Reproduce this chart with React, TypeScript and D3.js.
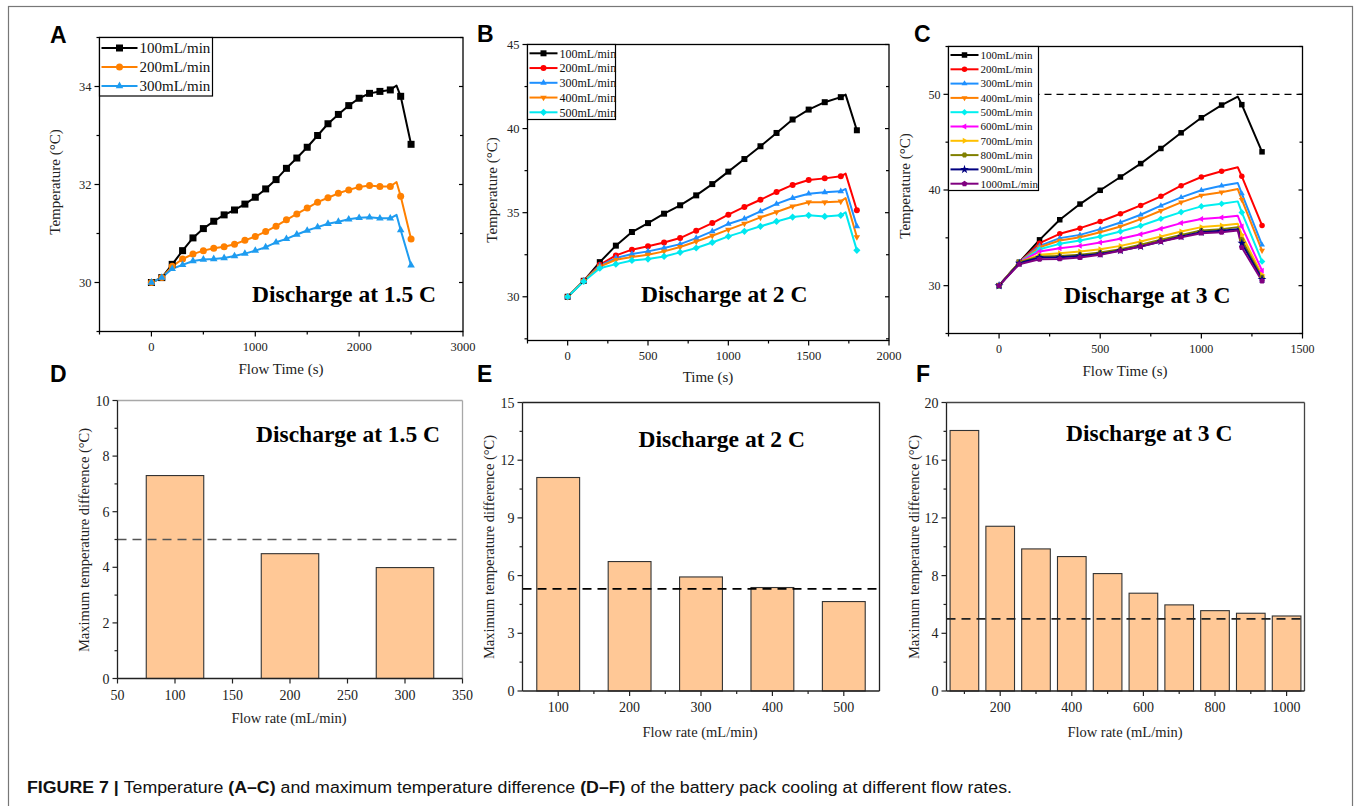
import React from 'react';
import * as d3 from 'd3';

// ---------------- DATA ----------------
// Panel A (1.5 C)
const timeA = [0, 100, 200, 300, 400, 500, 600, 700, 800, 900, 1000, 1100, 1200, 1300, 1400, 1500, 1600, 1700, 1800, 1900, 2000, 2100, 2200, 2300, 2360, 2400, 2500];
const a100 = [30.0, 30.1, 30.37, 30.65, 30.91, 31.1, 31.25, 31.38, 31.48, 31.6, 31.74, 31.91, 32.1, 32.33, 32.54, 32.76, 33.0, 33.24, 33.43, 33.61, 33.76, 33.86, 33.9, 33.93, 34.02, 33.8, 32.82];
const a200 = [30.0, 30.1, 30.33, 30.48, 30.58, 30.65, 30.7, 30.73, 30.78, 30.86, 30.94, 31.04, 31.15, 31.28, 31.4, 31.52, 31.64, 31.73, 31.82, 31.89, 31.95, 31.98, 31.96, 31.96, 32.05, 31.76, 30.89];
const a300 = [30.0, 30.1, 30.28, 30.36, 30.44, 30.47, 30.48, 30.5, 30.54, 30.59, 30.65, 30.72, 30.82, 30.89, 30.98, 31.06, 31.13, 31.2, 31.24, 31.29, 31.32, 31.33, 31.31, 31.31, 31.38, 31.07, 30.35];
const labelsA = ['100mL/min', '200mL/min', '300mL/min'];

// Panel B (2 C)
const timeB = [0, 100, 200, 300, 400, 500, 600, 700, 800, 900, 1000, 1100, 1200, 1300, 1400, 1500, 1600, 1700, 1730, 1800];
const b100 = [30, 30.95, 32.06, 33.04, 33.85, 34.38, 34.94, 35.44, 36.03, 36.7, 37.44, 38.19, 38.95, 39.74, 40.54, 41.13, 41.57, 41.87, 42.02, 39.9];
const b200 = [30, 30.95, 31.9, 32.46, 32.8, 33.0, 33.23, 33.49, 33.93, 34.38, 34.88, 35.34, 35.77, 36.23, 36.65, 36.94, 37.04, 37.16, 37.32, 35.14];
const b300 = [30, 30.95, 31.85, 32.3, 32.54, 32.7, 32.9, 33.13, 33.49, 33.89, 34.33, 34.64, 35.08, 35.52, 35.87, 36.13, 36.21, 36.27, 36.41, 34.19];
const b400 = [30, 30.95, 31.8, 32.2, 32.36, 32.5, 32.7, 32.96, 33.29, 33.63, 33.99, 34.35, 34.72, 35.04, 35.38, 35.62, 35.62, 35.67, 35.87, 33.55];
const b500 = [30, 30.91, 31.7, 31.94, 32.16, 32.24, 32.4, 32.64, 32.9, 33.23, 33.59, 33.89, 34.19, 34.48, 34.74, 34.84, 34.78, 34.84, 35.02, 32.76];
const labelsB = ['100mL/min', '200mL/min', '300mL/min', '400mL/min', '500mL/min'];

// Panel C (3 C)
const timeC = [0, 100, 200, 300, 400, 500, 600, 700, 800, 900, 1000, 1100, 1180, 1200, 1300];
const c100 = [30, 32.45, 34.79, 36.89, 38.53, 39.97, 41.36, 42.76, 44.34, 45.98, 47.55, 48.88, 49.76, 48.92, 43.99];
const c200 = [30, 32.45, 34.44, 35.42, 36.01, 36.71, 37.52, 38.39, 39.34, 40.45, 41.36, 41.96, 42.38, 41.43, 36.29];
const c300 = [30, 32.45, 34.16, 34.97, 35.31, 35.91, 36.61, 37.41, 38.36, 39.23, 39.97, 40.45, 40.73, 39.62, 34.27];
const c400 = [30, 32.45, 34.02, 34.72, 35.07, 35.59, 36.19, 36.96, 37.83, 38.71, 39.44, 39.76, 40.1, 38.99, 33.67];
const c500 = [30, 32.45, 33.81, 34.37, 34.72, 35.14, 35.66, 36.26, 36.99, 37.69, 38.29, 38.57, 38.81, 37.66, 32.52];
const c600 = [30, 32.45, 33.57, 33.92, 34.16, 34.51, 34.9, 35.38, 35.94, 36.54, 36.96, 37.13, 37.31, 36.19, 31.57];
const c700 = [30, 32.45, 33.22, 33.39, 33.57, 33.81, 34.16, 34.62, 35.14, 35.66, 36.12, 36.29, 36.47, 35.31, 31.12];
const c800 = [30, 32.45, 33.04, 33.11, 33.22, 33.46, 33.81, 34.27, 34.79, 35.31, 35.77, 35.91, 36.12, 34.79, 30.87];
const c900 = [30, 32.34, 32.94, 32.97, 33.11, 33.32, 33.67, 34.09, 34.62, 35.14, 35.59, 35.73, 35.91, 34.44, 30.66];
const c1000 = [30, 32.24, 32.76, 32.8, 32.94, 33.22, 33.64, 34.09, 34.62, 35.07, 35.49, 35.59, 35.77, 33.99, 30.49];
const labelsC = ['100mL/min', '200mL/min', '300mL/min', '400mL/min', '500mL/min', '600mL/min', '700mL/min', '800mL/min', '900mL/min', '1000mL/min'];
const limitC = 50;

// Panels D-F (max temperature difference)
const flowD = [100, 200, 300];
const dtD = [7.3, 4.49, 3.99];
const limitD = 5;
const flowE = [100, 200, 300, 400, 500];
const dtE = [11.1, 6.73, 5.93, 5.38, 4.65];
const limitE = 5.31;
const flowF = [100, 200, 300, 400, 500, 600, 700, 800, 900, 1000];
const dtF = [18.06, 11.42, 9.85, 9.32, 8.14, 6.78, 5.97, 5.57, 5.39, 5.2];
const limitF = 5;

// Tick values
const ticksAx = [0, 1000, 2000, 3000];
const minorAx = [-500, 500, 1500, 2500];
const ticksAy = [30, 32, 34];
const minorAy = [29, 31, 33, 35];
const ticksBx = [0, 500, 1000, 1500, 2000];
const minorBx = [-250, 250, 750, 1250, 1750];
const ticksBy = [30, 35, 40, 45];
const minorBy = [27.5, 32.5, 37.5, 42.5];
const ticksCx = [0, 500, 1000, 1500];
const minorCx = [-250, 250, 750, 1250];
const ticksCy = [30, 40, 50];
const minorCy = [25, 35, 45, 55];
const ticksDx = [50, 100, 150, 200, 250, 300, 350];
const ticksDy = [0, 2, 4, 6, 8, 10];
const minorDy = [1, 3, 5, 7, 9];
const ticksEx = [100, 200, 300, 400, 500];
const minorEx = [150, 250, 350, 450];
const ticksEy = [0, 3, 6, 9, 12, 15];
const minorEy = [1.5, 4.5, 7.5, 10.5, 13.5];
const ticksFx = [200, 400, 600, 800, 1000];
const minorFx = [100, 300, 500, 700, 900];
const ticksFy = [0, 4, 8, 12, 16, 20];
const minorFy = [2, 6, 10, 14, 18];

// ---------------- STYLE ----------------
const SERIF = '"Liberation Serif", "Times New Roman", serif';
const SANS = '"Liberation Sans", Arial, sans-serif';
const colorsA = ['#000000', '#ff8000', '#1e9cf0'];
const colorsB = ['#000000', '#ff0000', '#1e90ff', '#ff8000', '#00e8f0'];
const colorsC = ['#000000', '#ff0000', '#1e90ff', '#ff8000', '#00f0f0', '#ff00ff', '#ffc000', '#808000', '#000080', '#800080'];
const shapesC = ['square', 'circle', 'triUp', 'triDown', 'diamond', 'triLeft', 'triRight', 'hexagon', 'star', 'pentagon'];
const BAR_FILL = '#ffc896';

function polygon(n: number, r: number, rot: number) {
  const pts: string[] = [];
  for (let i = 0; i < n; i++) {
    const a = rot + (i * 2 * Math.PI) / n;
    pts.push(`${(r * Math.cos(a)).toFixed(2)},${(r * Math.sin(a)).toFixed(2)}`);
  }
  return 'M' + pts.join('L') + 'Z';
}

function markerPath(shape: string, s: number): string {
  const h = s / 2;
  switch (shape) {
    case 'square':
      return `M${-h},${-h}h${s}v${s}h${-s}Z`;
    case 'circle':
      return d3.symbol(d3.symbolCircle, Math.PI * h * h)() as string;
    case 'triUp':
      return polygon(3, h * 1.25, -Math.PI / 2);
    case 'triDown':
      return polygon(3, h * 1.25, Math.PI / 2);
    case 'triLeft':
      return polygon(3, h * 1.25, Math.PI);
    case 'triRight':
      return polygon(3, h * 1.25, 0);
    case 'diamond':
      return polygon(4, h * 1.2, -Math.PI / 2);
    case 'hexagon':
      return polygon(6, h * 1.05, 0);
    case 'pentagon':
      return polygon(5, h * 1.1, -Math.PI / 2);
    case 'star':
      return d3.symbol(d3.symbolStar, s * s * 0.8)() as string;
    default:
      return `M${-h},${-h}h${s}v${s}h${-s}Z`;
  }
}

type Frame = { x0: number; y0: number; x1: number; y1: number };

function LinePanel(props: any) {
  const { f, xDomain, yDomain, xMajor, xMinor, yMajor, yMinor, times, series, colors, shapes, labels,
    legend, ms, tickFont, limit, annot, xTitle, yTitle, letter } = props;
  const x = d3.scaleLinear().domain(xDomain).range([f.x0, f.x1]);
  const y = d3.scaleLinear().domain(yDomain).range([f.y1, f.y0]);
  const line = d3.line<number>().x((_, i) => x(times[i])).y((d) => y(d));
  const els: any[] = [];
  return (
    <g>
      {limit !== undefined && (
        <line x1={f.x0} x2={f.x1} y1={y(limit)} y2={y(limit)} stroke="#000" strokeWidth={1.2} strokeDasharray="7,5" />
      )}
      {series.map((s: number[], k: number) => (
        <path key={'l' + k} d={line(s) as string} fill="none" stroke={colors[k]} strokeWidth={2} strokeLinejoin="round" />
      ))}
      {series.map((s: number[], k: number) => (
        <g key={'m' + k} fill={colors[k]}>
          {s.map((v, i) =>
            times[i] % 100 === 0 ? (
              <path key={i} d={markerPath(shapes[k], ms)} transform={`translate(${x(times[i])},${y(v)})`} />
            ) : null
          )}
        </g>
      ))}
      <rect x={f.x0} y={f.y0} width={f.x1 - f.x0} height={f.y1 - f.y0} fill="none" stroke="#000" strokeWidth={1.3} />
      {/* ticks */}
      {xMajor.map((t: number) => (
        <g key={'xt' + t}>
          <line x1={x(t)} x2={x(t)} y1={f.y1} y2={f.y1 + 5} stroke="#000" strokeWidth={1.2} />
          <text x={x(t)} y={f.y1 + 19} textAnchor="middle" fontFamily={SERIF} fontSize={tickFont} fill="#222">{t}</text>
        </g>
      ))}
      {xMinor.map((t: number) => (
        <line key={'xm' + t} x1={x(t)} x2={x(t)} y1={f.y1} y2={f.y1 + 3} stroke="#000" strokeWidth={1.2} />
      ))}
      {yMajor.map((t: number) => (
        <g key={'yt' + t}>
          <line x1={f.x0 - 5} x2={f.x0} y1={y(t)} y2={y(t)} stroke="#000" strokeWidth={1.2} />
          <line x1={f.x1 - 4} x2={f.x1} y1={y(t)} y2={y(t)} stroke="#000" strokeWidth={1.2} />
          <text x={f.x0 - 8} y={y(t) + tickFont * 0.35} textAnchor="end" fontFamily={SERIF} fontSize={tickFont} fill="#222">{t}</text>
        </g>
      ))}
      {yMinor.map((t: number) => (
        <g key={'ym' + t}>
          <line x1={f.x0 - 3} x2={f.x0} y1={y(t)} y2={y(t)} stroke="#000" strokeWidth={1.2} />
          <line x1={f.x1 - 3} x2={f.x1} y1={y(t)} y2={y(t)} stroke="#000" strokeWidth={1.2} />
        </g>
      ))}
      {/* legend */}
      <rect x={f.x0} y={f.y0} width={legend.w} height={legend.h} fill="#fff" stroke="#000" strokeWidth={1.2} />
      {labels.map((lab: string, k: number) => {
        const ly = legend.first + k * legend.row;
        return (
          <g key={'lg' + k}>
            <line x1={f.x0 + 2} x2={f.x0 + 2 + legend.len} y1={ly} y2={ly} stroke={colors[k]} strokeWidth={2} />
            <path d={markerPath(shapes[k], ms)} fill={colors[k]} transform={`translate(${f.x0 + 2 + legend.len / 2},${ly})`} />
            <text x={f.x0 + legend.len + 4} y={ly + legend.font * 0.35} fontFamily={SERIF} fontSize={legend.font} fill="#111">{lab}</text>
          </g>
        );
      })}
      <text x={annot.x} y={annot.y} fontFamily={SERIF} fontWeight="bold" fontSize={23.5} fill="#000">{annot.text}</text>
      <text x={xTitle.x} y={xTitle.y} textAnchor="middle" fontFamily={SERIF} fontSize={15} fill="#222">{xTitle.text}</text>
      <text transform={`translate(${yTitle.x},${yTitle.y}) rotate(-90)`} textAnchor="middle" fontFamily={SERIF} fontSize={15} fill="#222">{yTitle.text}</text>
      <text x={letter.x} y={letter.y} fontFamily={SANS} fontWeight="bold" fontSize={23} fill="#000">{letter.text}</text>
    </g>
  );
}

function BarPanel(props: any) {
  const { f, xDomain, yDomain, xMajor, xMinor, yMajor, yMinor, cats, vals, barW, limit, dash, frameColor,
    annot, xTitle, yTitle, letter } = props;
  const x = d3.scaleLinear().domain(xDomain).range([f.x0, f.x1]);
  const y = d3.scaleLinear().domain(yDomain).range([f.y1, f.y0]);
  return (
    <g>
      {cats.map((c: number, i: number) => (
        <rect key={'b' + i} x={x(c - barW / 2)} y={y(vals[i])} width={x(c + barW / 2) - x(c - barW / 2)} height={y(0) - y(vals[i])}
          fill={BAR_FILL} stroke="#333" strokeWidth={1.1} />
      ))}
      <line x1={f.x0} x2={f.x1} y1={y(limit)} y2={y(limit)} stroke={dash} strokeWidth={1.6} strokeDasharray="9,6" />
      <line x1={f.x0} x2={f.x1} y1={f.y0} y2={f.y0} stroke={frameColor} strokeWidth={1.3} />
      <line x1={f.x1} x2={f.x1} y1={f.y0} y2={f.y1} stroke={frameColor} strokeWidth={1.3} />
      <line x1={f.x0} x2={f.x0} y1={f.y0} y2={f.y1} stroke="#222" strokeWidth={1.3} />
      <line x1={f.x0} x2={f.x1} y1={f.y1} y2={f.y1} stroke="#222" strokeWidth={1.3} />
      {xMajor.map((t: number) => (
        <g key={'xt' + t}>
          <line x1={x(t)} x2={x(t)} y1={f.y1} y2={f.y1 + 5} stroke="#222" strokeWidth={1.2} />
          <text x={x(t)} y={f.y1 + 21} textAnchor="middle" fontFamily={SERIF} fontSize={14} fill="#222">{t}</text>
        </g>
      ))}
      {xMinor.map((t: number) => (
        <line key={'xm' + t} x1={x(t)} x2={x(t)} y1={f.y1} y2={f.y1 + 3} stroke="#222" strokeWidth={1.2} />
      ))}
      {yMajor.map((t: number) => (
        <g key={'yt' + t}>
          <line x1={f.x0 - 5} x2={f.x0} y1={y(t)} y2={y(t)} stroke="#222" strokeWidth={1.2} />
          <text x={f.x0 - 8} y={y(t) + 5} textAnchor="end" fontFamily={SERIF} fontSize={14} fill="#222">{t}</text>
        </g>
      ))}
      {yMinor.map((t: number) => (
        <line key={'ym' + t} x1={f.x0 - 3} x2={f.x0} y1={y(t)} y2={y(t)} stroke="#222" strokeWidth={1.2} />
      ))}
      <text x={annot.x} y={annot.y} fontFamily={SERIF} fontWeight="bold" fontSize={23.5} fill="#000">{annot.text}</text>
      <text x={xTitle.x} y={xTitle.y} textAnchor="middle" fontFamily={SERIF} fontSize={14.5} fill="#222">{xTitle.text}</text>
      <text transform={`translate(${yTitle.x},${yTitle.y}) rotate(-90)`} textAnchor="middle" fontFamily={SERIF} fontSize={14.5} fill="#222">{yTitle.text}</text>
      <text x={letter.x} y={letter.y} fontFamily={SANS} fontWeight="bold" fontSize={23} fill="#000">{letter.text}</text>
    </g>
  );
}

export default function App() {
  const yT = 'Maximum temperature difference (°C)';
  return (
    <svg width={1354} height={806} style={{ position: 'absolute', left: 0, top: 0, background: '#fff' }}>
      <rect x={0} y={0} width={1354} height={806} fill="#fff" />
      <rect x={8.5} y={6.5} width={1344} height={900} fill="none" stroke="#777" strokeWidth={1.2} />
      <LinePanel
        f={{ x0: 99.5, y0: 37.5, x1: 463, y1: 331.5 }}
        xDomain={[-500, 3000]} yDomain={[29, 35]}
        xMajor={ticksAx} xMinor={minorAx} yMajor={ticksAy} yMinor={minorAy}
        times={timeA} series={[a100, a200, a300]} colors={colorsA} shapes={['square', 'circle', 'triUp']} labels={labelsA}
        legend={{ w: 113, h: 58.5, first: 48, row: 19, len: 36, font: 15 }} ms={7} tickFont={12.5}
        annot={{ text: 'Discharge at 1.5 C', x: 252, y: 302 }}
        xTitle={{ text: 'Flow Time (s)', x: 281, y: 374 }}
        yTitle={{ text: 'Temperature (°C)', x: 60, y: 182 }}
        letter={{ text: 'A', x: 50, y: 43 }}
      />
      <LinePanel
        f={{ x0: 527.5, y0: 44.5, x1: 889, y1: 340.5 }}
        xDomain={[-250, 2000]} yDomain={[27.4, 45]}
        xMajor={ticksBx} xMinor={minorBx} yMajor={ticksBy} yMinor={minorBy}
        times={timeB} series={[b100, b200, b300, b400, b500]} colors={colorsB} shapes={['square', 'circle', 'triUp', 'triDown', 'diamond']} labels={labelsB}
        legend={{ w: 88, h: 75, first: 53.3, row: 14.75, len: 28, font: 12 }} ms={6} tickFont={12.5}
        annot={{ text: 'Discharge at 2 C', x: 641, y: 302 }}
        xTitle={{ text: 'Time (s)', x: 708, y: 382 }}
        yTitle={{ text: 'Temperature (°C)', x: 497, y: 190 }}
        letter={{ text: 'B', x: 477, y: 42 }}
      />
      <LinePanel
        f={{ x0: 948.5, y0: 46.5, x1: 1302.5, y1: 333.5 }}
        xDomain={[-250, 1500]} yDomain={[25, 55]}
        xMajor={ticksCx} xMinor={minorCx} yMajor={ticksCy} yMinor={minorCy}
        times={timeC} series={[c100, c200, c300, c400, c500, c600, c700, c800, c900, c1000]} colors={colorsC} shapes={shapesC} labels={labelsC}
        legend={{ w: 90, h: 144, first: 55, row: 14.3, len: 28, font: 11 }} ms={5.5} tickFont={12}
        limit={limitC}
        annot={{ text: 'Discharge at 3 C', x: 1064, y: 303 }}
        xTitle={{ text: 'Flow Time (s)', x: 1125, y: 376 }}
        yTitle={{ text: 'Temperature (°C)', x: 910, y: 186 }}
        letter={{ text: 'C', x: 914, y: 42 }}
      />
      <BarPanel
        f={{ x0: 117.5, y0: 400.5, x1: 462.5, y1: 678.5 }}
        xDomain={[50, 350]} yDomain={[0, 10]}
        xMajor={ticksDx} xMinor={[]} yMajor={ticksDy} yMinor={minorDy}
        cats={flowD} vals={dtD} barW={50} limit={limitD} dash="#555" frameColor="#a8a8a8"
        annot={{ text: 'Discharge at 1.5 C', x: 256, y: 442 }}
        xTitle={{ text: 'Flow rate (mL/min)', x: 289, y: 723 }}
        yTitle={{ text: yT, x: 88.5, y: 540 }}
        letter={{ text: 'D', x: 50, y: 382 }}
      />
      <BarPanel
        f={{ x0: 522.5, y0: 402.5, x1: 879.5, y1: 691 }}
        xDomain={[50, 550]} yDomain={[0, 15]}
        xMajor={ticksEx} xMinor={minorEx} yMajor={ticksEy} yMinor={minorEy}
        cats={flowE} vals={dtE} barW={60} limit={limitE} dash="#000" frameColor="#222"
        annot={{ text: 'Discharge at 2 C', x: 638.5, y: 447 }}
        xTitle={{ text: 'Flow rate (mL/min)', x: 700, y: 737 }}
        yTitle={{ text: yT, x: 493.5, y: 547 }}
        letter={{ text: 'E', x: 477, y: 382 }}
      />
      <BarPanel
        f={{ x0: 946.5, y0: 402.5, x1: 1304.5, y1: 691 }}
        xDomain={[50, 1050]} yDomain={[0, 20]}
        xMajor={ticksFx} xMinor={minorFx} yMajor={ticksFy} yMinor={minorFy}
        cats={flowF} vals={dtF} barW={80} limit={limitF} dash="#222" frameColor="#444"
        annot={{ text: 'Discharge at 3 C', x: 1066, y: 441 }}
        xTitle={{ text: 'Flow rate (mL/min)', x: 1125, y: 737 }}
        yTitle={{ text: yT, x: 918.5, y: 547 }}
        letter={{ text: 'F', x: 916, y: 382 }}
      />
      <text x={27} y={793} fontFamily={SANS} fontSize={16} fill="#111" textLength={985} lengthAdjust="spacingAndGlyphs">
        <tspan fontWeight="bold">FIGURE 7 | </tspan>
        <tspan>Temperature </tspan>
        <tspan fontWeight="bold">(A–C)</tspan>
        <tspan> and maximum temperature difference </tspan>
        <tspan fontWeight="bold">(D–F)</tspan>
        <tspan> of the battery pack cooling at different flow rates.</tspan>
      </text>
    </svg>
  );
}
